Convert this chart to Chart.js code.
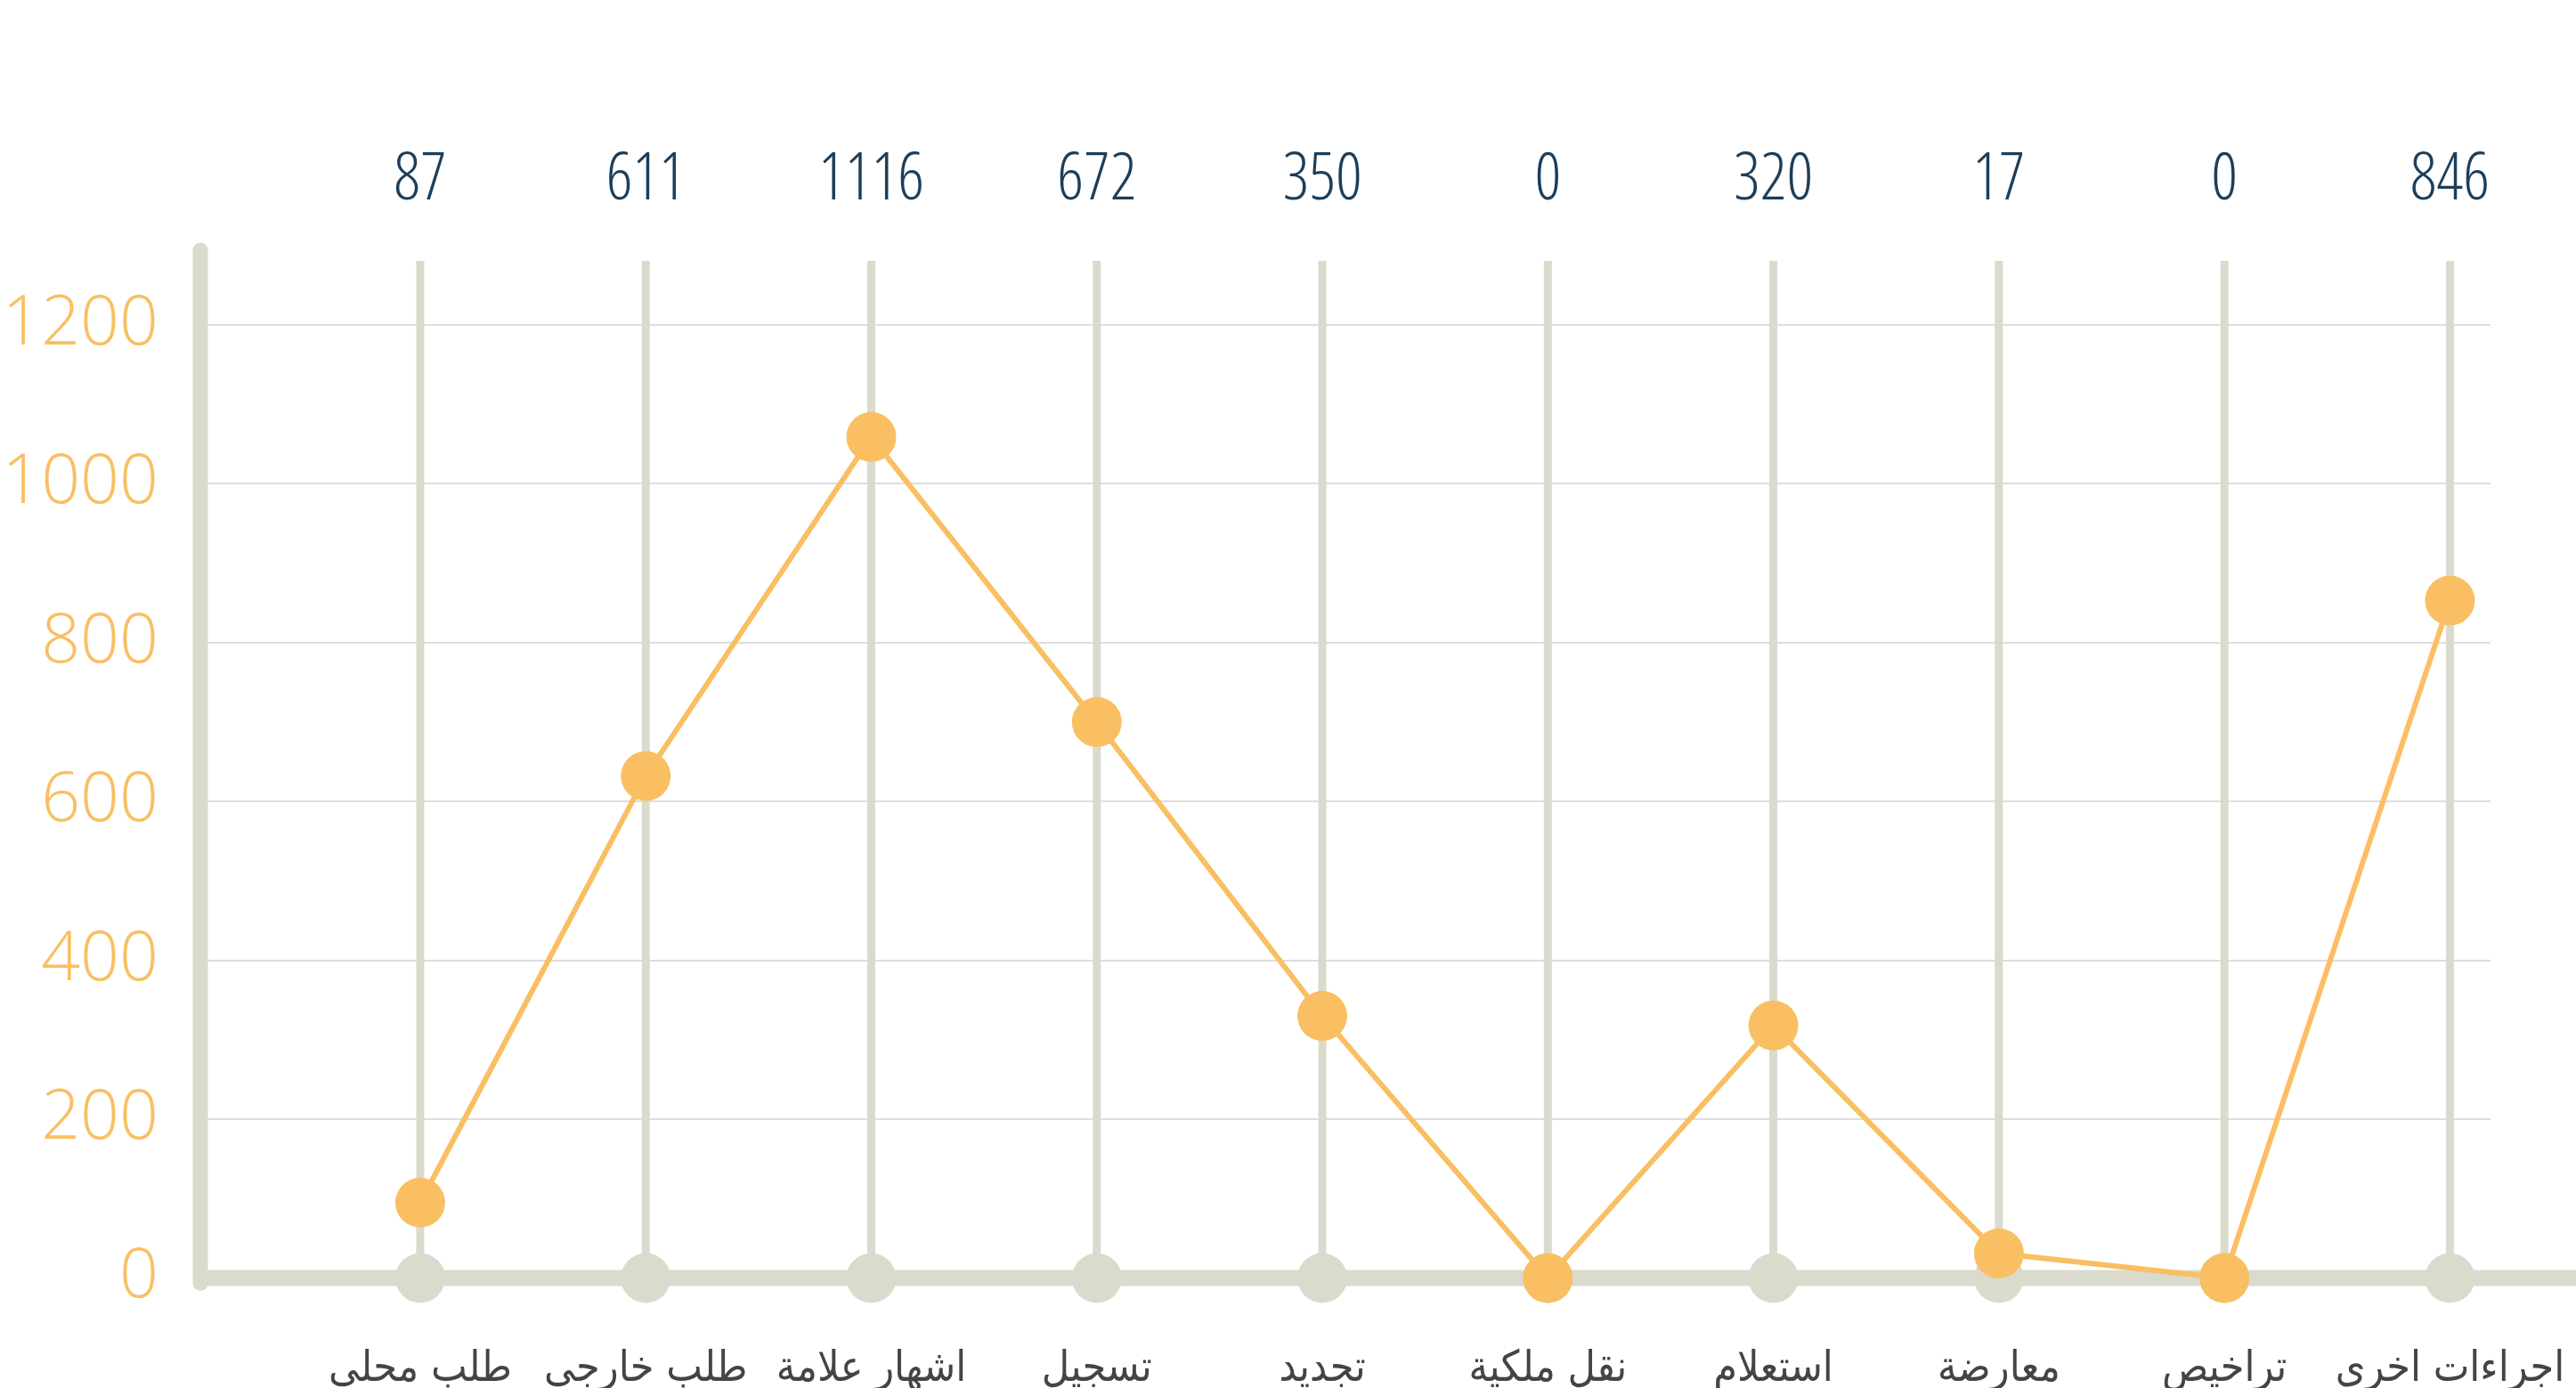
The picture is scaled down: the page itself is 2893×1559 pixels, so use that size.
<!DOCTYPE html>
<html>
<head>
<meta charset="utf-8">
<script src="https://cdn.jsdelivr.net/npm/chart.js@4.4.0/dist/chart.umd.min.js"></script>
<style>
  html, body { margin: 0; padding: 0; background: #fff; overflow: hidden; }
</style>
</head>
<body>
<canvas id="chart" width="2893" height="1559"></canvas>
<script>
const categories = ['طلب محلي', 'طلب خارجي', 'اشهار علامة', 'تسجيل', 'تجديد', 'نقل ملكية', 'استعلام', 'معارضة', 'تراخيص', 'اجراءات اخرى'];
// where the points sit on the chart
const values = [95, 632, 1059, 700, 330, 0, 318, 31, 0, 853];
// the totals printed above each column
const shownTotals = ['87', '611', '1116', '672', '350', '0', '320', '17', '0', '846'];
const yTicks = [0, 200, 400, 600, 800, 1000, 1200];

const orange = '#f9bf62';
const rail = '#dadbcd';
const numFamily = '"Open Sans", Roboto, sans-serif';

const frame = {
  id: 'frame',
  beforeDatasetsDraw(chart) {
    const { ctx, chartArea, scales: { x, y } } = chart;
    const base = y.getPixelForValue(0);
    ctx.save();
    ctx.strokeStyle = rail;

    // column rails
    ctx.lineWidth = 9;
    categories.forEach((c, i) => {
      const px = x.getPixelForValue(i);
      ctx.beginPath();
      ctx.moveTo(px, chartArea.top - 72);
      ctx.lineTo(px, base);
      ctx.stroke();
    });

    // x axis band
    ctx.lineWidth = 18;
    ctx.beginPath();
    ctx.moveTo(chartArea.left, base);
    ctx.lineTo(chart.width, base);
    ctx.stroke();

    // y axis
    ctx.lineWidth = 17;
    ctx.lineCap = 'round';
    ctx.beginPath();
    ctx.moveTo(chartArea.left, chartArea.top - 84);
    ctx.lineTo(chartArea.left, base + 6);
    ctx.stroke();

    // knobs on the axis
    ctx.fillStyle = rail;
    categories.forEach((c, i) => {
      ctx.beginPath();
      ctx.arc(x.getPixelForValue(i), base, 28, 0, Math.PI * 2);
      ctx.fill();
    });

    // totals on top
    ctx.fillStyle = '#1c3e5a';
    ctx.font = 'semi-condensed 300 73px ' + numFamily;
    ctx.textAlign = 'center';
    ctx.textBaseline = 'alphabetic';
    shownTotals.forEach((t, i) => {
      ctx.fillText(t, x.getPixelForValue(i), 224);
    });
    ctx.restore();
  }
};

new Chart(document.getElementById('chart'), {
  type: 'line',
  data: {
    datasets: [{
      data: values.map((v, i) => ({ x: i, y: v })),
      borderColor: orange,
      borderWidth: 6,
      pointRadius: 28,
      pointHoverRadius: 28,
      pointBackgroundColor: orange,
      pointBorderWidth: 0,
      tension: 0,
      clip: false
    }]
  },
  options: {
    responsive: false,
    animation: false,
    layout: { padding: { top: 365, right: 96, left: 0, bottom: 0 } },
    plugins: { legend: { display: false }, tooltip: { enabled: false } },
    scales: {
      x: {
        type: 'linear',
        min: -0.975,
        max: 9.18,
        afterBuildTicks(scale) {
          scale.ticks = categories.map((c, i) => ({ value: i }));
        },
        afterFit(scale) {
          scale.height = 123.5;
          scale.paddingLeft = 0;
          scale.paddingRight = 0;
        },
        grid: { display: false, drawTicks: false },
        border: { display: false },
        ticks: {
          autoSkip: false,
          maxRotation: 0,
          padding: 74,
          color: '#444444',
          font: { family: '"DejaVu Sans Condensed", "DejaVu Sans", sans-serif', size: 48 },
          callback: (v) => categories[v]
        }
      },
      y: {
        min: 0,
        max: 1200,
        afterBuildTicks(scale) {
          scale.ticks = yTicks.map(v => ({ value: v }));
        },
        afterFit(scale) { scale.width = 225; },
        grid: { color: '#dddddd', lineWidth: 2, drawTicks: false },
        border: { display: false },
        ticks: {
          padding: 47,
          color: orange,
          font: { family: numFamily, size: 77, weight: '350', style: 'condensed' },
          callback: (v) => String(v)
        }
      }
    }
  },
  plugins: [frame]
});
</script>
</body>
</html>
